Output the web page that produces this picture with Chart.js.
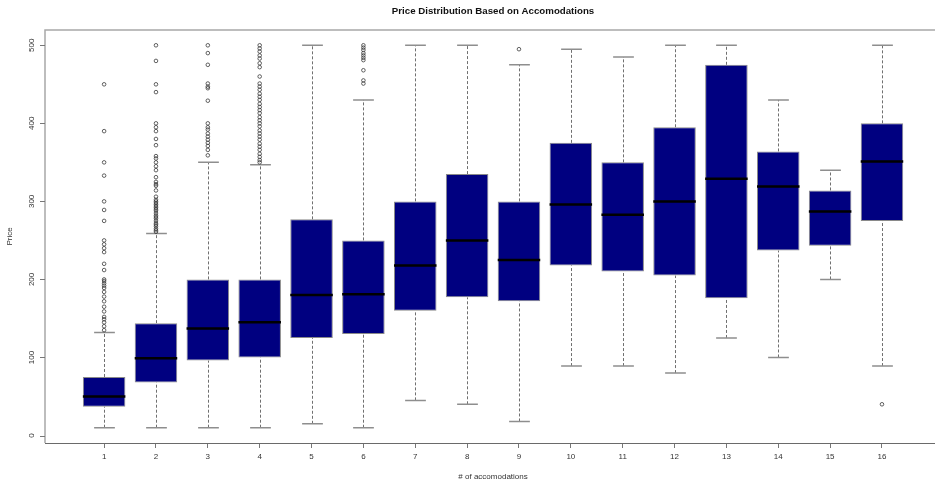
<!DOCTYPE html>
<html>
<head>
<meta charset="utf-8">
<script src="https://cdn.jsdelivr.net/npm/chart.js@4.4.1/dist/chart.umd.min.js"></script>
<style>
  html, body { margin: 0; padding: 0; background: #ffffff; overflow: hidden; }
  #wrap { width: 935px; height: 484px; position: relative; }
</style>
</head>
<body>
<div id="wrap"><canvas id="chart" width="935" height="484"></canvas></div>
<script>
// Number of accommodations (x categories)
const accommodations = [1, 2, 3, 4, 5, 6, 7, 8, 9, 10, 11, 12, 13, 14, 15, 16];

// Five-number summaries of price per group
const whiskerLow  = [10, 10, 10, 10, 15, 10, 45, 40, 18, 89, 89, 80, 125, 100, 200, 89];
const q1          = [37, 68, 96, 100, 125, 130, 160, 177, 172, 218, 210, 205, 176, 237, 243, 275];
const medians     = [50, 99, 137, 145, 180, 181, 218, 250, 225, 296, 283, 300, 329, 319, 287, 351];
const q3          = [75, 144, 200, 200, 277, 250, 300, 335, 300, 375, 350, 395, 475, 364, 314, 400];
const whiskerHigh = [132, 259, 350, 347, 500, 430, 500, 500, 475, 495, 485, 500, 500, 430, 340, 500];

// Outlying prices per group
const outliers = [
  [450, 390, 350, 333, 300, 289, 275, 250, 245, 240, 235, 220, 212, 200, 198, 195, 192, 189, 184, 178, 172, 165, 159, 152, 149, 145, 140, 135],
  [500, 480, 450, 440, 400, 395, 390, 380, 372, 358, 355, 350, 345, 340, 331, 325, 322, 320, 314, 306, 302, 300, 298, 296, 294, 292, 290, 288, 285, 282, 280, 278, 275, 272, 270, 268, 265, 263, 261],
  [500, 490, 475, 451, 447, 445, 429, 400, 395, 392, 387, 383, 379, 375, 371, 366, 359],
  [500, 496, 492, 487, 483, 477, 472, 460, 451, 447, 443, 438, 434, 430, 425, 421, 417, 413, 408, 404, 400, 396, 391, 387, 383, 379, 374, 370, 366, 361, 357, 353, 350],
  [],
  [500, 497, 494, 490, 487, 484, 481, 468, 455, 451],
  [],
  [],
  [495],
  [],
  [],
  [],
  [],
  [],
  [],
  [40]
];

// Axis ticks
const yTicks = [0, 100, 200, 300, 400, 500];

const FONT = "'Liberation Sans', Arial, Helvetica, sans-serif";

const boxData = accommodations.map((c, i) => ({ x: c, y: [q1[i], q3[i]] }));
const outlierData = [];
accommodations.forEach((c, i) => outliers[i].forEach(v => outlierData.push({ x: c, y: v })));

// Whiskers, staples, medians, frame and text drawn on the chart's scales
const boxParts = {
  id: 'boxParts',
  beforeDatasetsDraw(chart) {
    const { ctx, scales: { x, y } } = chart;
    const halfStaple = x.getPixelForValue(1.2) - x.getPixelForValue(1);
    ctx.save();
    accommodations.forEach((c, i) => {
      const px = Math.round(x.getPixelForValue(c)) + 0.5;
      // dashed whiskers
      ctx.setLineDash([3, 2]);
      ctx.strokeStyle = '#707070';
      ctx.lineWidth = 1;
      ctx.beginPath();
      ctx.moveTo(px, y.getPixelForValue(whiskerLow[i]));
      ctx.lineTo(px, y.getPixelForValue(q1[i]));
      ctx.moveTo(px, y.getPixelForValue(q3[i]));
      ctx.lineTo(px, y.getPixelForValue(whiskerHigh[i]));
      ctx.stroke();
      // staples
      ctx.setLineDash([]);
      ctx.strokeStyle = '#8e8e8e';
      ctx.lineWidth = 1.5;
      ctx.beginPath();
      [whiskerLow[i], whiskerHigh[i]].forEach(v => {
        const py = y.getPixelForValue(v);
        ctx.moveTo(px - halfStaple, py);
        ctx.lineTo(px + halfStaple, py);
      });
      ctx.stroke();
    });
    ctx.restore();
  },
  afterDatasetsDraw(chart) {
    const { ctx, scales: { y } } = chart;
    const meta = chart.getDatasetMeta(0);
    ctx.save();
    ctx.strokeStyle = '#000000';
    ctx.lineWidth = 2.5;
    meta.data.forEach((el, i) => {
      const { x: bx, width } = el.getProps(['x', 'width'], true);
      const py = y.getPixelForValue(medians[i]);
      ctx.beginPath();
      ctx.moveTo(bx - width / 2, py);
      ctx.lineTo(bx + width / 2, py);
      ctx.stroke();
    });
    ctx.restore();
  },
  afterDraw(chart) {
    const { ctx, chartArea: a, scales: { x, y } } = chart;
    ctx.save();
    // plot frame
    ctx.strokeStyle = '#a8a8a8';
    ctx.lineWidth = 1.5;
    ctx.beginPath();
    ctx.moveTo(a.left, a.bottom);
    ctx.lineTo(a.left, a.top);
    ctx.lineTo(chart.width, a.top);
    ctx.stroke();
    ctx.strokeStyle = '#6a6a6a';
    ctx.lineWidth = 1;
    ctx.beginPath();
    ctx.moveTo(a.left, Math.round(a.bottom) + 0.5);
    ctx.lineTo(chart.width, Math.round(a.bottom) + 0.5);
    ctx.stroke();

    // y tick marks and labels, labels written parallel to the axis
    ctx.strokeStyle = '#777777';
    ctx.lineWidth = 1;
    ctx.beginPath();
    y.ticks.forEach(t => {
      const py = Math.round(y.getPixelForValue(t.value)) + 0.5;
      ctx.moveTo(a.left - 5, py);
      ctx.lineTo(a.left, py);
    });
    ctx.stroke();
    ctx.fillStyle = '#333333';
    ctx.font = `8px ${FONT}`;
    ctx.textAlign = 'center';
    ctx.textBaseline = 'middle';
    y.ticks.forEach(t => {
      ctx.save();
      ctx.translate(31.5, y.getPixelForValue(t.value));
      ctx.rotate(-Math.PI / 2);
      ctx.fillText(String(t.value), 0, 0);
      ctx.restore();
    });

    // main title and x-axis title, centred on the plot region
    const cx = x.getPixelForValue(8.5);
    ctx.fillStyle = '#111111';
    ctx.font = `bold 9.7px ${FONT}`;
    ctx.fillText('Price Distribution Based on Accomodations', cx, 11.5);
    ctx.fillStyle = '#333333';
    ctx.font = `8px ${FONT}`;
    ctx.fillText('# of accomodations', cx, 477);
    ctx.restore();
  }
};

new Chart(document.getElementById('chart'), {
  type: 'bar',
  data: {
    datasets: [
      {
        label: 'Price',
        data: boxData,
        backgroundColor: '#000080',
        borderColor: '#8a8a8a',
        borderWidth: 1,
        borderSkipped: false,
        grouped: false,
        barPercentage: 0.82,
        categoryPercentage: 1.0
      },
      {
        type: 'scatter',
        label: 'Outliers',
        data: outlierData,
        pointRadius: 1.8,
        pointBorderWidth: 0.8,
        pointBackgroundColor: 'rgba(0,0,0,0)',
        pointBorderColor: '#3a3a3a'
      }
    ]
  },
  options: {
    responsive: false,
    animation: false,
    devicePixelRatio: 1,
    layout: { padding: { top: 30, right: 0, bottom: 0, left: 0 } },
    plugins: {
      legend: { display: false },
      tooltip: { enabled: false },
      title: { display: false }
    },
    scales: {
      x: {
        type: 'linear',
        min: -0.14,
        max: 16.93,
        offset: false,
        afterBuildTicks: s => { s.ticks = accommodations.map(v => ({ value: v })); },
        afterFit: s => { s.height = 41; },
        grid: { display: true, offset: false, drawOnChartArea: false, drawTicks: true, tickLength: 5, color: '#777777', lineWidth: 1 },
        border: { display: false },
        ticks: {
          font: { family: FONT, size: 8 },
          color: '#333333',
          padding: 4,
          maxRotation: 0,
          minRotation: 0,
          callback: v => String(v)
        }
      },
      y: {
        type: 'linear',
        min: -9.6,
        max: 519.6,
        afterBuildTicks: s => { s.ticks = yTicks.map(v => ({ value: v })); },
        afterFit: s => { s.width = 45; },
        grid: { display: false },
        border: { display: false },
        ticks: { display: false },
        title: {
          display: true,
          text: 'Price',
          font: { family: FONT, size: 8 },
          color: '#333333',
          padding: { top: 5, bottom: 0 }
        }
      }
    }
  },
  plugins: [boxParts]
});
</script>
</body>
</html>
